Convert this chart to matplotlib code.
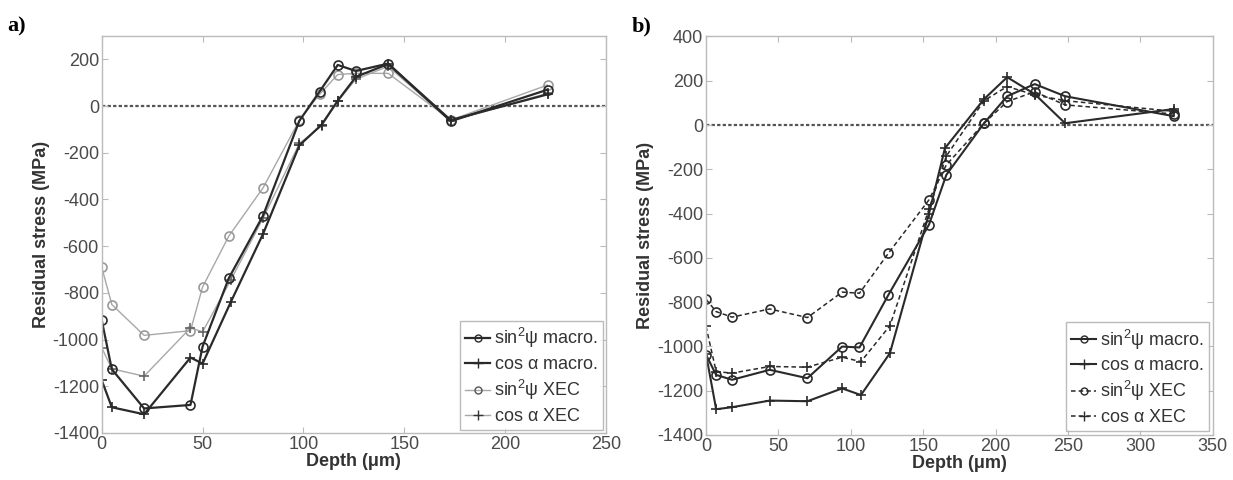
import matplotlib
matplotlib.use("Agg")
import matplotlib.pyplot as plt
from matplotlib.lines import Line2D

plt.rcParams['font.family'] = ['Liberation Sans', 'DejaVu Sans']
plt.rcParams['mathtext.fontset'] = 'custom'
plt.rcParams['mathtext.rm'] = 'Liberation Sans'
plt.rcParams['mathtext.it'] = 'Liberation Sans'
plt.rcParams['axes.unicode_minus'] = False

# ---------------- panel a data ----------------
a_sin_macro_x = [0, 5, 21, 44, 50, 63, 80, 98, 108, 117, 126, 142, 173, 221]
a_sin_macro_y = [-917, -1127, -1295, -1280, -1030, -737, -469, -63, 62, 176, 150, 182, -65, 70]
a_cos_macro_x = [0, 5, 21, 44, 50, 64, 80, 98, 109, 117, 126, 142, 173, 221]
a_cos_macro_y = [-1174, -1290, -1320, -1077, -1103, -839, -547, -168, -80, 23, 125, 180, -60, 50]
a_sin_xec_x = [0, 5, 21, 44, 50, 63, 80, 98, 108, 117, 126, 142, 173, 221]
a_sin_xec_y = [-690, -850, -982, -962, -775, -557, -350, -60, 50, 135, 140, 140, -60, 90]
a_cos_xec_x = [0, 5, 21, 44, 50, 64, 80, 98, 109, 117, 126, 142, 173, 221]
a_cos_xec_y = [-1035, -1125, -1157, -950, -967, -745, -480, -160, -85, 20, 115, 170, -65, 55]

# ---------------- panel b data ----------------
b_sin_macro_x = [0, 7, 18, 44, 70, 94, 106, 126, 154, 166, 192, 208, 227, 248, 323]
b_sin_macro_y = [-1038, -1129, -1151, -1106, -1144, -1001, -1005, -767, -450, -225, 8, 130, 185, 130, 40]
b_cos_macro_x = [0, 7, 18, 44, 70, 94, 107, 127, 154, 165, 192, 208, 227, 248, 323]
b_cos_macro_y = [-1035, -1284, -1275, -1245, -1248, -1190, -1220, -1031, -400, -105, 117, 216, 140, 8, 72]
b_sin_xec_x = [0, 7, 18, 44, 70, 94, 106, 126, 154, 166, 192, 208, 227, 248, 323]
b_sin_xec_y = [-787, -843, -868, -831, -870, -755, -760, -579, -338, -180, 8, 106, 150, 91, 50]
b_cos_xec_x = [0, 7, 18, 44, 70, 94, 107, 127, 154, 166, 192, 208, 227, 248, 323]
b_cos_xec_y = [-910, -1114, -1121, -1091, -1094, -1049, -1069, -907, -380, -140, 110, 174, 136, 110, 62]

a_xticks = [0, 50, 100, 150, 200, 250]
a_yticks = [-1400, -1200, -1000, -800, -600, -400, -200, 0, 200]
b_xticks = [0, 50, 100, 150, 200, 250, 300, 350]
b_yticks = [-1400, -1200, -1000, -800, -600, -400, -200, 0, 200, 400]

labels = [r"sin$^{2}\psi$ macro.", r"cos $\alpha$ macro.", r"sin$^{2}\psi$ XEC", r"cos $\alpha$ XEC"]

fig = plt.figure(figsize=(12.33, 4.8), dpi=100)
axa = fig.add_axes([0.0825, 0.098, 0.409, 0.827])
axb = fig.add_axes([0.5726, 0.094, 0.411, 0.830])

DARK = '#2a2a2a'
GRAY = '#a8a8a8'
TICKC = '#4a4a4a'
MS = 6.5


def style(ax, xt, yt, xlim, ylim):
    ax.set_xlim(*xlim)
    ax.set_ylim(*ylim)
    ax.set_xticks(xt)
    ax.set_yticks(yt)
    ax.tick_params(direction='in', top=True, right=True, length=4, color='#bbbbbb',
                   labelsize=13, labelcolor=TICKC, pad=2)
    for s in ax.spines.values():
        s.set_color('#bbbbbb')
        s.set_linewidth(1.0)
    ax.axhline(0, color='#555555', ls=(0, (1.5, 1.0)), lw=1.6, zorder=1)
    ax.set_xlabel(u"Depth (\u03bcm)", fontsize=13, fontweight='bold', color='#333333', labelpad=0)
    ax.set_ylabel("Residual stress (MPa)", fontsize=13, fontweight='bold', color='#333333', labelpad=2)


# panel a
axa.plot(a_sin_xec_x, a_sin_xec_y, color=GRAY, lw=1.0, marker='o', ms=MS, mfc='none', mec='#999999', mew=1.2)
axa.plot(a_cos_xec_x, a_cos_xec_y, color=GRAY, lw=1.0, marker='+', ms=MS, mec='#666666', mew=1.2)
axa.plot(a_sin_macro_x, a_sin_macro_y, color=DARK, lw=1.6, marker='o', ms=MS, mfc='none', mec=DARK, mew=1.2)
axa.plot(a_cos_macro_x, a_cos_macro_y, color=DARK, lw=1.6, marker='+', ms=MS, mec=DARK, mew=1.2)
style(axa, a_xticks, a_yticks, (0, 250), (-1400, 300))
ha = [Line2D([], [], color=DARK, lw=1.6, marker='o', ms=5, mfc='none', mec=DARK),
      Line2D([], [], color=DARK, lw=1.6, marker='+', ms=7, mec=DARK),
      Line2D([], [], color=GRAY, lw=1.0, marker='o', ms=5, mfc='none', mec='#555555'),
      Line2D([], [], color=GRAY, lw=1.0, marker='+', ms=7, mec='#333333')]
lg = axa.legend(ha, labels, loc='lower right', fontsize=13, frameon=True, fancybox=False,
                edgecolor='#aaaaaa', handlelength=1.4, handletextpad=0.2, labelspacing=0.3,
                borderpad=0.3, borderaxespad=0.15)
for t in lg.get_texts():
    t.set_color('#333333')

# panel b
axb.plot(b_sin_xec_x, b_sin_xec_y, color=DARK, lw=1.1, ls=(0, (3, 2)), marker='o', ms=MS, mfc='none', mec=DARK, mew=1.2)
axb.plot(b_cos_xec_x, b_cos_xec_y, color=DARK, lw=1.1, ls=(0, (3, 2)), marker='+', ms=MS, mec=DARK, mew=1.2)
axb.plot(b_sin_macro_x, b_sin_macro_y, color=DARK, lw=1.5, marker='o', ms=MS, mfc='none', mec=DARK, mew=1.2)
axb.plot(b_cos_macro_x, b_cos_macro_y, color=DARK, lw=1.5, marker='+', ms=MS, mec=DARK, mew=1.2)
style(axb, b_xticks, b_yticks, (0, 350), (-1400, 400))
hb = [Line2D([], [], color=DARK, lw=1.5, marker='o', ms=5, mfc='none', mec=DARK),
      Line2D([], [], color=DARK, lw=1.5, marker='+', ms=7, mec=DARK),
      Line2D([], [], color=DARK, lw=1.1, ls=(0, (3, 2)), marker='o', ms=5, mfc='none', mec=DARK),
      Line2D([], [], color=DARK, lw=1.1, ls=(0, (3, 2)), marker='+', ms=7, mec=DARK)]
lg = axb.legend(hb, labels, loc='lower right', fontsize=13, frameon=True, fancybox=False,
                edgecolor='#aaaaaa', handlelength=1.4, handletextpad=0.2, labelspacing=0.3,
                borderpad=0.3, borderaxespad=0.2)
for t in lg.get_texts():
    t.set_color('#333333')

fig.text(0.006, 0.965, "a)", fontsize=16, fontweight='bold', family='Liberation Serif', va='top')
fig.text(0.512, 0.965, "b)", fontsize=16, fontweight='bold', family='Liberation Serif', va='top')

fig.savefig("out.png", dpi=100, facecolor='white')
